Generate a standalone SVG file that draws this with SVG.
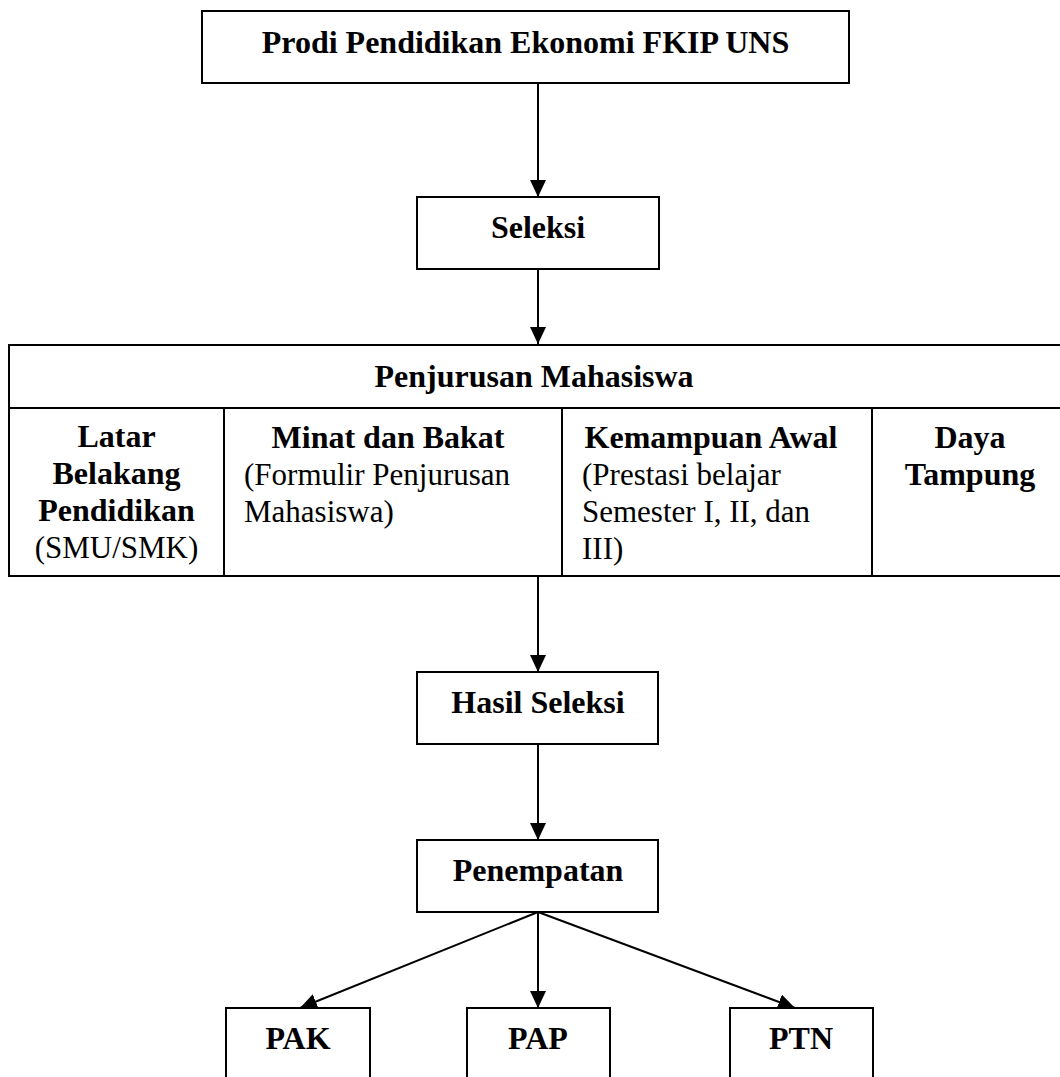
<svg xmlns="http://www.w3.org/2000/svg" width="1060" height="1077" viewBox="0 0 1060 1077">
<style>
.box{fill:#fff;stroke:#000;stroke-width:2}
.tl{fill:none;stroke:#000;stroke-width:2}
.b{font-family:"Liberation Serif","Times New Roman",serif;font-weight:bold;font-size:32px;fill:#000}
.r{font-family:"Liberation Serif","Times New Roman",serif;font-size:31px;fill:#000}
.c{text-anchor:middle}
.conn{fill:none;stroke:#000;stroke-width:2;marker-end:url(#ah)}
</style>
<defs>
<marker id="ah" markerUnits="userSpaceOnUse" markerWidth="18" markerHeight="16" refX="17" refY="8" orient="auto">
<path d="M0,0 L17,8 L0,16 Z" fill="#000"/>
</marker>
</defs>
<rect width="1060" height="1077" fill="#fff"/>
<g id="connectors">
<line class="conn" x1="538" y1="83" x2="538" y2="197"/>
<line class="conn" x1="538" y1="269" x2="538" y2="344"/>
<line class="conn" x1="538" y1="576" x2="538" y2="672"/>
<line class="conn" x1="538" y1="744" x2="538" y2="840"/>
<line class="conn" x1="538" y1="912" x2="300" y2="1008"/>
<line class="conn" x1="538" y1="912" x2="538" y2="1008"/>
<line class="conn" x1="538" y1="912" x2="795" y2="1008"/>
</g>
<g id="prodi">
<rect class="box" x="202" y="11" width="647" height="72"/>
<text class="b c" x="525.5" y="53">Prodi Pendidikan Ekonomi FKIP UNS</text>
</g>
<g id="seleksi">
<rect class="box" x="417" y="197" width="242" height="72"/>
<text class="b c" x="538" y="238">Seleksi</text>
</g>
<g id="penjurusan">
<path class="tl" d="M1062,345 H9 V576 H1062 M9,408 H1062 M224,408 V576 M562,408 V576 M872,408 V576"/>
<text class="b c" x="534" y="387">Penjurusan Mahasiswa</text>
<text class="b c" x="116.5" y="447">Latar</text>
<text class="b c" x="116.5" y="484">Belakang</text>
<text class="b c" x="116.5" y="521">Pendidikan</text>
<text class="r c" x="116.5" y="558">(SMU/SMK)</text>
<text class="b c" x="388" y="448">Minat dan Bakat</text>
<text class="r" x="244" y="485">(Formulir Penjurusan</text>
<text class="r" x="244" y="522">Mahasiswa)</text>
<text class="b c" x="711" y="448">Kemampuan Awal</text>
<text class="r" x="582" y="485">(Prestasi belajar</text>
<text class="r" x="582" y="522">Semester I, II, dan</text>
<text class="r" x="582" y="559">III)</text>
<text class="b c" x="970" y="448">Daya</text>
<text class="b c" x="970" y="485">Tampung</text>
</g>
<g id="hasil">
<rect class="box" x="417" y="672" width="241" height="72"/>
<text class="b c" x="538" y="713">Hasil Seleksi</text>
</g>
<g id="penempatan">
<rect class="box" x="417" y="840" width="241" height="72"/>
<text class="b c" x="538" y="881">Penempatan</text>
</g>
<g id="pak">
<rect class="box" x="226" y="1008" width="144" height="80"/>
<text class="b c" x="298" y="1049">PAK</text>
</g>
<g id="pap">
<rect class="box" x="467" y="1008" width="143" height="80"/>
<text class="b c" x="538" y="1049">PAP</text>
</g>
<g id="ptn">
<rect class="box" x="730" y="1008" width="143" height="80"/>
<text class="b c" x="801" y="1049">PTN</text>
</g>
</svg>
